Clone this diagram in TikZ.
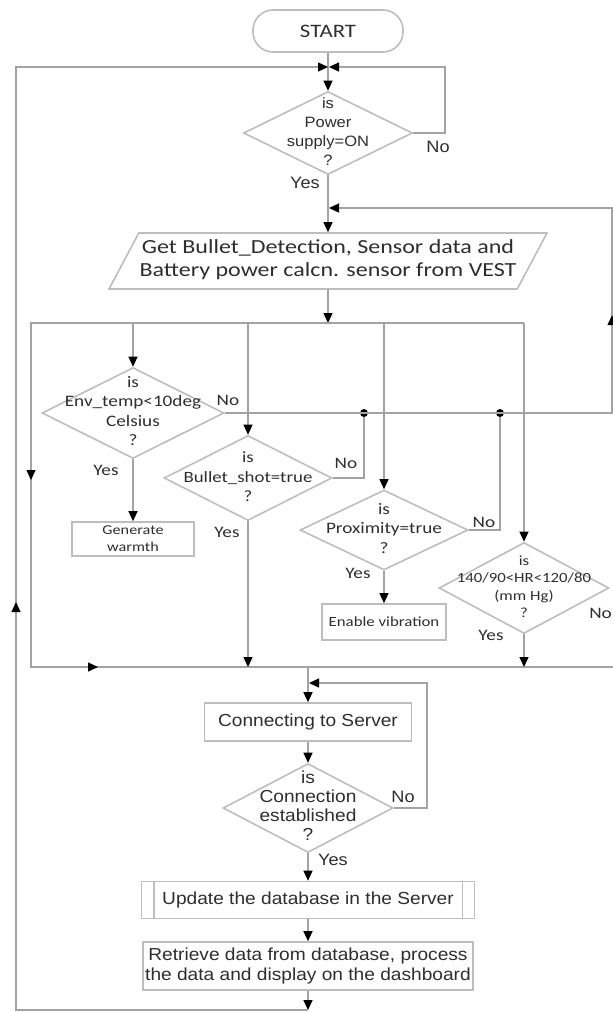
\documentclass[tikz,border=0pt]{standalone}
\usepackage{fontspec}
\setmainfont[FakeStretch=1.1]{Liberation Sans}
\newfontfamily\calib[FakeStretch=1.2]{Carlito}
\usetikzlibrary{shapes.geometric, arrows.meta, decorations.markings}

\definecolor{linegray}{HTML}{A3A3A3}
\definecolor{boxgray}{HTML}{BDBDBD}
\definecolor{inkgray}{HTML}{2E2E2E}

\newcommand{\dtext}[1]{\makebox[0pt]{\smash{\raisebox{-.25em}{\begin{tabular}{@{}c@{}}#1\end{tabular}}}}}

\begin{document}
\begin{tikzpicture}[x=1pt, y=-1pt,
    term/.style={draw=boxgray, line width=1.6pt, rounded corners=20pt, minimum width=150pt, minimum height=42pt, inner sep=0pt, text=inkgray},
    decision/.style={diamond, draw=boxgray, line width=1.6pt, inner sep=0pt, text=inkgray},
    io/.style={trapezium, trapezium left angle=62, trapezium right angle=118, trapezium stretches body, draw=boxgray, line width=1.6pt, inner sep=0pt, text=inkgray},
    proc/.style={rectangle, draw=boxgray, line width=1.6pt, inner sep=0pt, align=center, text=inkgray},
    flow/.style={draw=linegray, line width=1.3pt},
    arr/.style={flow, -{Triangle[length=10pt, width=9pt, color=black]}},
    midarr/.style={postaction={decorate, decoration={markings, mark=at position #1 with {\arrow{Triangle[length=10pt, width=9pt, color=black]}}}}},
    dot/.style={circle, fill=black, minimum size=8pt, inner sep=0pt},
    lab/.style={text=inkgray, inner sep=0pt, font=\fontsize{16.5}{18}\selectfont},
    clab/.style={text=inkgray, inner sep=0pt, font=\calib\fontsize{16}{18}\selectfont}]
    \useasboundingbox (0,0) rectangle (613,1012);

    \node[term, font=\calib\fontsize{19}{22}\selectfont] (start) at (328,31) {START};
    \node[decision, minimum width=169pt, minimum height=83pt, font=\fontsize{15}{19}\selectfont] (power) at (328,133)
        {\dtext{is\\Power\\supply=ON\\?}};
    \node[io, minimum width=438pt, minimum height=56pt, font=\calib\fontsize{20}{23}\selectfont] (input) at (328,261)
        {\dtext{Get Bullet\_Detection, Sensor data and\\Battery power calcn. sensor from VEST}\rule[-28pt]{0pt}{56pt}};

    \node[decision, minimum width=182pt, minimum height=91pt, font=\calib\fontsize{16}{19.5}\selectfont] (env) at (133,413)
        {\dtext{is\\Env\_temp<10deg\\Celsius\\?}};
    \node[decision, minimum width=168pt, minimum height=85pt, font=\calib\fontsize{15.7}{19.5}\selectfont] (bullet) at (248,478)
        {\dtext{is\\Bullet\_shot=true\\?}};
    \node[decision, minimum width=168pt, minimum height=80pt, font=\calib\fontsize{16}{19.5}\selectfont] (prox) at (384,530)
        {\dtext{is\\Proximity=true\\?}};
    \node[decision, minimum width=170pt, minimum height=91pt, font=\calib\fontsize{14}{17.5}\selectfont] (hr) at (524,588)
        {\dtext{is\\140/90<HR<120/80\\(mm Hg)\\?}};
    \node[proc, minimum width=122pt, minimum height=34pt, font=\calib\fontsize{13.5}{17}\selectfont] (warmth) at (133,539) {Generate\\warmth};
    \node[proc, minimum width=124pt, minimum height=36pt, font=\calib\fontsize{14}{17}\selectfont] (vib) at (384,622) {Enable vibration};

    \node[proc, minimum width=207pt, minimum height=38pt, font=\fontsize{17.4}{20}\selectfont] (connect) at (308,722) {Connecting to Server};
    \node[decision, minimum width=170pt, minimum height=89pt, font=\fontsize{17.4}{19}\selectfont] (conndia) at (308,808)
        {\dtext{is\\Connection\\established\\?}};
    \node[proc, minimum width=333pt, minimum height=37pt, font=\fontsize{17.4}{20}\selectfont] (update) at (308,900) {Update the database in the Server};
    \draw[boxgray, line width=1.6pt] ([xshift=13pt]update.north west) -- ([xshift=13pt]update.south west)
        ([xshift=-13pt]update.north east) -- ([xshift=-13pt]update.south east);
    \node[proc, minimum width=330pt, minimum height=48pt, font=\fontsize{17.4}{20.5}\selectfont] (retrieve) at (308,966)
        {Retrieve data from database, process\\the data and display on the dashboard};

    \coordinate (join1) at (328,67);
    \coordinate (join2) at (328,208);
    \coordinate (rr) at (612,208);
    \coordinate (fork) at (328,323);
    \coordinate (fl) at (31,323);
    \coordinate (fr) at (524,323);
    \coordinate (bl) at (31,667);
    \coordinate (br) at (613,667);
    \coordinate (join3) at (308,683);
    \coordinate (cr) at (427,683);
    \coordinate (tail) at (308,1010);
    \node[dot] (dotb) at (364,413) {};
    \node[dot] (dotp) at (500,413) {};

    \draw[arr] (start) -- (power);
    \draw[arr, shorten >=1pt] (power.east) -- (445,133) |- (join1);
    \draw[arr] (power) -- (input);
    \draw[arr] (input) -- (fork);

    % Sammelrahmen: oben verteilen, unten wieder zusammenfuehren
    \draw[flow, midarr=650pt, midarr=904pt] (fr) -- (fl) -- (bl) -- (br);
    \draw[arr] (env |- fl) -- (env);
    \draw[arr] (bullet |- fl) -- (bullet);
    \draw[arr] (prox |- fl) -- (prox);
    \draw[arr] (hr |- fl) -- (hr);

    \draw[arr, midarr=485pt, shorten >=1pt] (env.east) -| (rr) -- (join2);
    \draw[flow] (bullet.east) -| (dotb);
    \draw[flow] (prox.east) -| (dotp);
    \draw[arr] (env) -- (warmth);
    \draw[arr] (bullet) -- (bullet |- bl);
    \draw[arr] (prox) -- (vib);
    \draw[arr] (hr) -- (hr |- bl);

    \draw[arr] (connect |- bl) -- (connect);
    \draw[arr] (connect) -- (conndia);
    \draw[arr, shorten >=1pt] (conndia.east) -| (cr) -- (join3);
    \draw[arr] (conndia) -- (update);
    \draw[arr] (update) -- (retrieve);
    \draw[arr] (retrieve) -- (tail);
    \draw[arr, midarr=700pt] (tail) -- (16,1010) -- (16,67) -- (join1);

    \node[lab] (yes1) at (305,183) {Yes};
    \node[lab] (no1) at (438,147) {No};
    \node[clab] (noenv) at (228,400) {No};
    \node[clab] (yesenv) at (106,470) {Yes};
    \node[clab] (nobul) at (346,463) {No};
    \node[clab] (yesbul) at (227,532) {Yes};
    \node[clab] (noprox) at (484,522) {No};
    \node[clab] (yesprox) at (358,573) {Yes};
    \node[clab] (yeshr) at (491,635) {Yes};
    \node[clab, anchor=east] (nohr) at (612,613) {No};
    \node[lab] (noconn) at (403,797) {No};
    \node[lab] (yesconn) at (333,860) {Yes};
\end{tikzpicture}
\end{document}
